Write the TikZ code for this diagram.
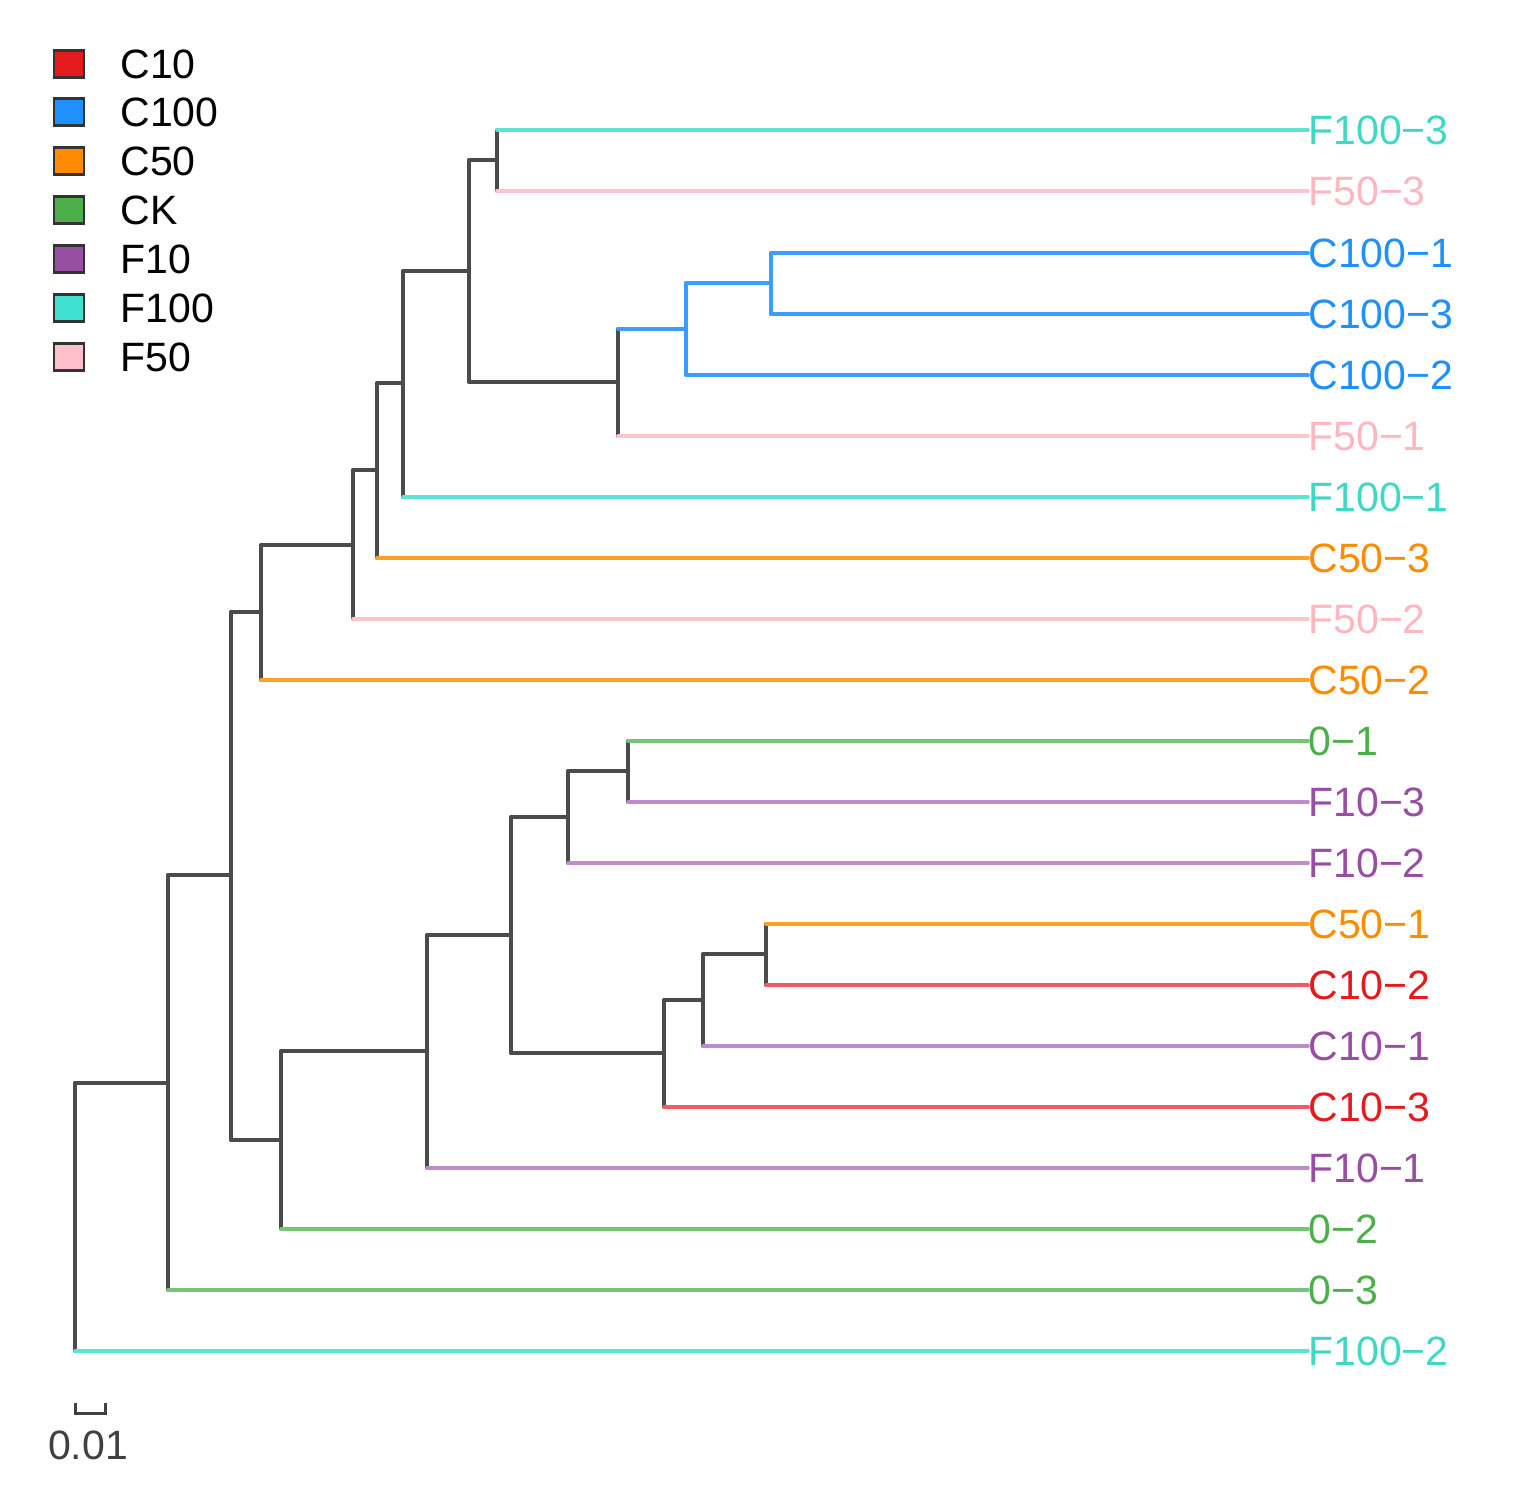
\documentclass[tikz,border=0pt]{standalone}
\usepackage{fontspec}
\setmainfont{Liberation Sans}
\definecolor{cBr}{RGB}{75,75,75}
\definecolor{tF100}{RGB}{64,216,196}
\definecolor{lF100}{RGB}{90,228,212}
\definecolor{tF50}{RGB}{255,182,193}
\definecolor{lF50}{RGB}{255,196,205}
\definecolor{tC100}{RGB}{30,144,255}
\definecolor{lC100}{RGB}{60,156,255}
\definecolor{tC50}{RGB}{255,140,0}
\definecolor{lC50}{RGB}{255,160,40}
\definecolor{tCK}{RGB}{77,175,74}
\definecolor{lCK}{RGB}{120,196,118}
\definecolor{tF10}{RGB}{152,78,163}
\definecolor{lF10}{RGB}{190,140,205}
\definecolor{tC10}{RGB}{228,26,28}
\definecolor{lC10}{RGB}{240,90,100}
\definecolor{kC10}{RGB}{228,26,28}
\definecolor{kC100}{RGB}{30,144,255}
\definecolor{kC50}{RGB}{255,140,0}
\definecolor{kCK}{RGB}{77,175,74}
\definecolor{kF10}{RGB}{152,78,163}
\definecolor{kF100}{RGB}{64,224,208}
\definecolor{kF50}{RGB}{255,192,203}
\tikzset{
  br/.style={line width=1.8pt, draw=cBr, line cap=round},
  lf/.style={line width=1.8pt, line cap=round},
  lab/.style={anchor=west, inner sep=0pt, text height=14.7pt, text depth=0pt, font=\fontsize{20.5}{24}\selectfont},
  legbox/.style={draw=black!80, line width=1.2pt, minimum width=15pt, minimum height=13.5pt, inner sep=0pt},
  legtxt/.style={anchor=west, inner sep=0pt, text height=14.7pt, text depth=0pt, font=\fontsize{20.5}{24}\selectfont}
}
\begin{document}
\begin{tikzpicture}[x=0.5pt,y=-0.5pt]
\useasboundingbox (0,0) rectangle (1532,1505);
% legend
\foreach \n/\c/\t/\yy in {g1/kC10/C10/64, g2/kC100/C100/112, g3/kC50/C50/161, g4/kCK/CK/210, g5/kF10/F10/259, g6/kF100/F100/308, g7/kF50/F50/357}{
  \node[legbox, fill=\c] (\n) at (69,\yy) {};
  \node[legtxt] (\n t) at (120,\yy) {\t};
}
% leaves
\coordinate (l1) at (1308,130);
\coordinate (l2) at (1308,191);
\coordinate (l3) at (1308,253);
\coordinate (l4) at (1308,314);
\coordinate (l5) at (1308,375);
\coordinate (l6) at (1308,436);
\coordinate (l7) at (1308,497);
\coordinate (l8) at (1308,558);
\coordinate (l9) at (1308,619);
\coordinate (l10) at (1308,680);
\coordinate (l11) at (1308,741);
\coordinate (l12) at (1308,802);
\coordinate (l13) at (1308,863);
\coordinate (l14) at (1308,924);
\coordinate (l15) at (1308,985);
\coordinate (l16) at (1308,1046);
\coordinate (l17) at (1308,1107);
\coordinate (l18) at (1308,1168);
\coordinate (l19) at (1308,1229);
\coordinate (l20) at (1308,1290);
\coordinate (l21) at (1308,1351);
% internal nodes
\coordinate (root) at (75,1083);
\coordinate (A) at (168,1083);
\coordinate (B) at (231,875);
\coordinate (C) at (261,612);
\coordinate (E) at (353,545);
\coordinate (F) at (377,470);
\coordinate (G) at (403,383);
\coordinate (H) at (469,271);
\coordinate (I) at (497,160);
\coordinate (J) at (618,382);
\coordinate (K) at (686,329);
\coordinate (L) at (771,283);
\coordinate (D) at (281,1140);
\coordinate (M) at (427,1051);
\coordinate (N) at (511,935);
\coordinate (O) at (568,817);
\coordinate (Q) at (628,771);
\coordinate (P) at (664,1053);
\coordinate (R) at (703,1000);
\coordinate (S) at (766,954);
% labels
\node[lab, text=tF100] (t1) at (l1) {F100−3};
\node[lab, text=tF50] (t2) at (l2) {F50−3};
\node[lab, text=tC100] (t3) at (l3) {C100−1};
\node[lab, text=tC100] (t4) at (l4) {C100−3};
\node[lab, text=tC100] (t5) at (l5) {C100−2};
\node[lab, text=tF50] (t6) at (l6) {F50−1};
\node[lab, text=tF100] (t7) at (l7) {F100−1};
\node[lab, text=tC50] (t8) at (l8) {C50−3};
\node[lab, text=tF50] (t9) at (l9) {F50−2};
\node[lab, text=tC50] (t10) at (l10) {C50−2};
\node[lab, text=tCK] (t11) at (l11) {0−1};
\node[lab, text=tF10] (t12) at (l12) {F10−3};
\node[lab, text=tF10] (t13) at (l13) {F10−2};
\node[lab, text=tC50] (t14) at (l14) {C50−1};
\node[lab, text=tC10] (t15) at (l15) {C10−2};
\node[lab, text=tF10] (t16) at (l16) {C10−1};
\node[lab, text=tC10] (t17) at (l17) {C10−3};
\node[lab, text=tF10] (t18) at (l18) {F10−1};
\node[lab, text=tCK] (t19) at (l19) {0−2};
\node[lab, text=tCK] (t20) at (l20) {0−3};
\node[lab, text=tF100] (t21) at (l21) {F100−2};
% vertical bars
\foreach \p/\a/\b in {root/A/l21, A/B/l20, B/C/D, C/E/l10, E/F/l9, F/G/l8, G/H/l7, H/I/J, I/l1/l2, J/K/l6, D/M/l19, M/N/l18, N/O/P, O/Q/l13, Q/l11/l12, P/R/l17, R/S/l16, S/l14/l15}{
  \draw[br] (\p |- \a) -- (\p |- \b);
}
\draw[lf, draw=lC100] (K |- L) -- (K |- l5);
\draw[lf, draw=lC100] (L |- l3) -- (L |- l4);
% internal horizontals
\foreach \p/\c in {root/A, A/B, B/C, B/D, C/E, E/F, F/G, G/H, H/I, H/J, D/M, M/N, N/O, N/P, O/Q, P/R, R/S}{
  \draw[br] (\p |- \c) -- (\c);
}
\draw[lf, draw=lC100] (J |- K) -- (K);
\draw[lf, draw=lC100] (K |- L) -- (L);
% leaf horizontals
\draw[lf, draw=lF100] (I |- l1) -- (t1.west);
\draw[lf, draw=lF50] (I |- l2) -- (t2.west);
\draw[lf, draw=lC100] (L |- l3) -- (t3.west);
\draw[lf, draw=lC100] (L |- l4) -- (t4.west);
\draw[lf, draw=lC100] (K |- l5) -- (t5.west);
\draw[lf, draw=lF50] (J |- l6) -- (t6.west);
\draw[lf, draw=lF100] (G |- l7) -- (t7.west);
\draw[lf, draw=lC50] (F |- l8) -- (t8.west);
\draw[lf, draw=lF50] (E |- l9) -- (t9.west);
\draw[lf, draw=lC50] (C |- l10) -- (t10.west);
\draw[lf, draw=lCK] (Q |- l11) -- (t11.west);
\draw[lf, draw=lF10] (Q |- l12) -- (t12.west);
\draw[lf, draw=lF10] (O |- l13) -- (t13.west);
\draw[lf, draw=lC50] (S |- l14) -- (t14.west);
\draw[lf, draw=lC10] (S |- l15) -- (t15.west);
\draw[lf, draw=lF10] (R |- l16) -- (t16.west);
\draw[lf, draw=lC10] (P |- l17) -- (t17.west);
\draw[lf, draw=lF10] (M |- l18) -- (t18.west);
\draw[lf, draw=lCK] (D |- l19) -- (t19.west);
\draw[lf, draw=lCK] (A |- l20) -- (t20.west);
\draw[lf, draw=lF100] (root |- l21) -- (t21.west);
% scale bar
\coordinate (s1) at (75,1403);
\coordinate (s2) at (105,1403);
\draw[line width=1.5pt, draw=black!75] (s1) -- (s1 |- 0,1413) -- (s2 |- 0,1413) -- (s2);
\node[lab, anchor=center, text=black!75] (sc) at (88,1445) {0.01};
\end{tikzpicture}
\end{document}
